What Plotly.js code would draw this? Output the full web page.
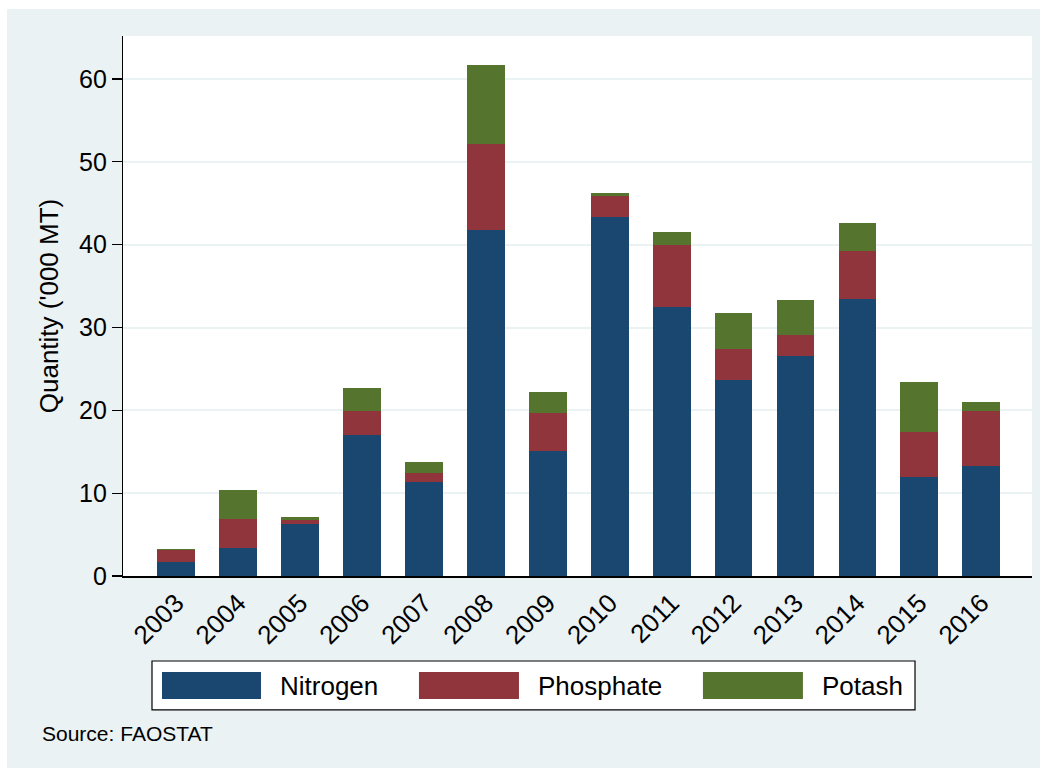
<!DOCTYPE html>
<html>
<head>
<meta charset="utf-8">
<script src="https://cdn.plot.ly/plotly-3.0.1.min.js"></script>
<style>html,body{margin:0;padding:0;background:#fff;}#chart{width:1046px;height:770px;}</style>
</head>
<body>
<div id="chart"></div>
<script>
const years = ["2003","2004","2005","2006","2007","2008","2009","2010","2011","2012","2013","2014","2015","2016"];
const nitrogen  = [1.75, 3.35, 6.3, 17.0, 11.35, 41.8, 15.1, 43.35, 32.5, 23.65, 26.6, 33.45, 11.95, 13.3];
const phosphate = [1.45, 3.5, 0.5, 2.9, 1.1, 10.4, 4.6, 2.55, 7.45, 3.7, 2.5, 5.75, 5.45, 6.6];
const potash    = [0.1, 3.55, 0.3, 2.8, 1.35, 9.5, 2.5, 0.4, 1.55, 4.4, 4.2, 3.4, 6.05, 1.1];
const seriesNames = ["Nitrogen", "Phosphate", "Potash"];
const seriesColors = ["#1a476f", "#90353b", "#55752f"];
const yTicks = [0, 10, 20, 30, 40, 50, 60];

const FONT = "Liberation Sans, Arial, Helvetica, sans-serif";
const seriesData = [nitrogen, phosphate, potash];
const traces = seriesData.map((vals, i) => ({
  type: "bar",
  x: years,
  y: vals,
  name: seriesNames[i],
  marker: {color: seriesColors[i], line: {width: 0}},
  hoverinfo: "x+y+name"
}));

// custom legend (big swatches like the reference)
const shapes = [
  {type: "rect", xref: "paper", yref: "paper", x0: -0.1276, x1: 1.0088, y0: -0.3556, y1: 1.05,
   fillcolor: "#eaf2f3", line: {width: 0}, layer: "below"},
  {type: "rect", xref: "paper", yref: "paper", x0: 0, x1: 1, y0: 0, y1: 1,
   fillcolor: "#ffffff", line: {width: 0}, layer: "below"},
  {type: "rect", xref: "paper", yref: "paper", x0: 0.0319, x1: 0.8713, y0: -0.2481, y1: -0.1574,
   fillcolor: "#ffffff", line: {color: "#000000", width: 1.2}}
];
const swX = [[0.0429, 0.1518], [0.3256, 0.4356], [0.6380, 0.7480]];
const txX = [0.1705, 0.4543, 0.7668];
const annotations = [];
seriesNames.forEach((n, i) => {
  shapes.push({type: "rect", xref: "paper", yref: "paper", x0: swX[i][0], x1: swX[i][1],
    y0: -0.2278, y1: -0.1778, fillcolor: seriesColors[i], line: {width: 0}});
  annotations.push({xref: "paper", yref: "paper", x: txX[i], y: -0.2028, text: n, showarrow: false,
    xanchor: "left", yanchor: "middle", font: {family: FONT, size: 26, color: "#000"}});
});
annotations.push({xref: "paper", yref: "paper", x: -0.0915, y: -0.2913, text: "Source: FAOSTAT",
  showarrow: false, xanchor: "left", yanchor: "middle", font: {family: FONT, size: 21, color: "#000"}});

const layout = {
  width: 1046, height: 770,
  margin: {l: 123, r: 14, t: 36, b: 194},
  paper_bgcolor: "#ffffff",
  plot_bgcolor: "rgba(0,0,0,0)",
  barmode: "stack",
  bargap: 0.39,
  showlegend: false,
  font: {family: FONT, color: "#000"},
  xaxis: {
    type: "category",
    range: [-0.86, 13.82],
    showline: true, linecolor: "#000", linewidth: 1.5,
    ticks: "", tickangle: -45,
    tickfont: {family: FONT, size: 26, color: "#000"},
    showgrid: false, zeroline: false, fixedrange: true
  },
  yaxis: {
    range: [0, 65.2],
    tickvals: yTicks,
    ticktext: yTicks.map(String),
    showline: true, linecolor: "#000", linewidth: 1.2,
    ticks: "outside", ticklen: 10, tickwidth: 1.2, tickcolor: "#000",
    tickfont: {family: FONT, size: 25, color: "#000"},
    showgrid: true, gridcolor: "#eaf2f3", gridwidth: 2,
    zeroline: false,
    title: {text: "Quantity ('000 MT)", font: {family: FONT, size: 26, color: "#000"}, standoff: 12},
    fixedrange: true
  },
  shapes: shapes,
  annotations: annotations
};

Plotly.newPlot("chart", traces, layout, {displayModeBar: false, staticPlot: true});
</script>
</body>
</html>
